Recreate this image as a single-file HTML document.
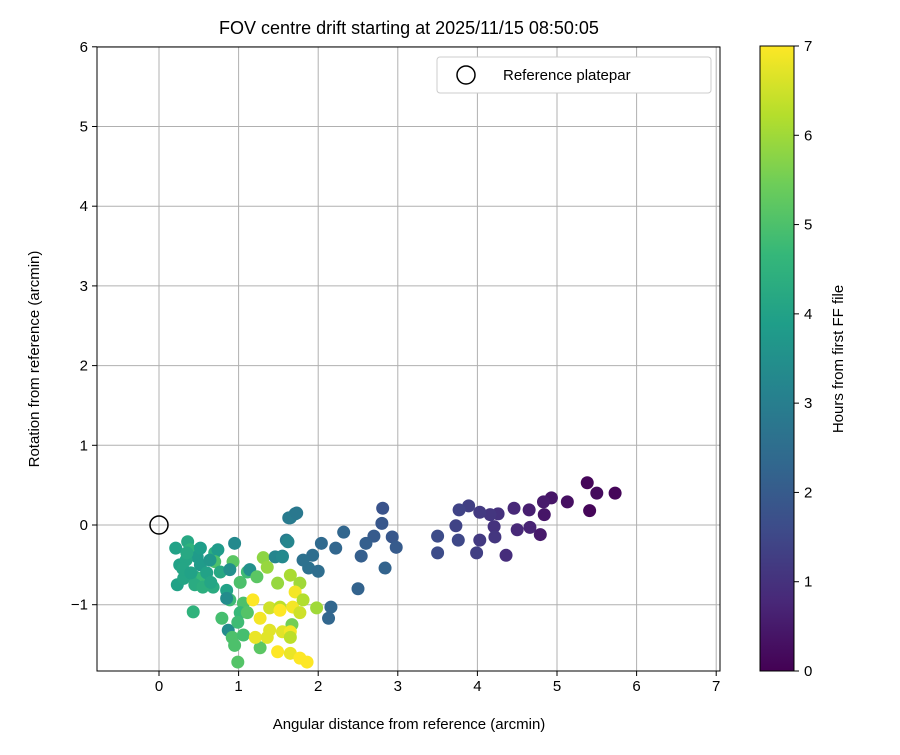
<!DOCTYPE html>
<html><head><meta charset="utf-8"><style>
body{margin:0;background:#fff;font-family:"Liberation Sans",sans-serif}
svg text{font-family:"Liberation Sans",sans-serif;fill:#000}
</style></head><body>
<svg id="c" width="900" height="750" xmlns="http://www.w3.org/2000/svg"></svg>
<script>
const xs=[5.38,5.5,5.73,5.41,5.13,4.93,4.83,4.84,4.79,4.65,4.66,4.46,4.5,4.36,4.26,4.21,4.22,4.16,4.03,4.03,3.99,3.89,3.77,3.73,3.76,3.5,3.5,
2.81,2.8,2.93,2.98,2.7,2.6,2.54,2.84,2.32,2.22,2.04,2.5,1.93,1.88,2.0,1.81,2.16,2.13,1.71,1.63,1.6,1.55,0.95,
0.36,0.39,0.26,0.48,0.23,0.43,0.52,0.7,0.74,0.7,0.93,0.77,0.89,0.45,0.55,0.68,0.85,0.89,0.85,1.02,1.11,1.14,1.23,1.31,1.36,1.46,1.55,1.62,1.65,1.73,
1.06,1.02,1.11,0.79,0.87,0.99,0.92,0.95,1.06,0.99,1.27,1.18,1.27,1.21,1.36,1.39,1.49,1.52,1.52,1.65,1.77,1.71,1.68,1.81,1.77,1.67,1.55,1.65,1.65,1.49,1.65,1.77,1.86,1.98,1.39,
0.21,0.34,0.52,0.31,0.64,0.3,0.45,0.55,0.6,0.35,0.65,0.4];
const ys=[0.53,0.4,0.4,0.18,0.29,0.34,0.29,0.13,-0.12,0.19,-0.03,0.21,-0.06,-0.38,0.14,-0.02,-0.15,0.13,0.16,-0.19,-0.35,0.24,0.19,-0.01,-0.19,-0.14,-0.35,
0.21,0.02,-0.15,-0.28,-0.14,-0.23,-0.39,-0.54,-0.09,-0.29,-0.23,-0.8,-0.38,-0.54,-0.58,-0.44,-1.03,-1.17,0.14,0.09,-0.19,-0.39,-0.23,
-0.21,-0.31,-0.5,-0.4,-0.75,-1.09,-0.5,-0.35,-0.31,-0.46,-0.46,-0.59,-0.56,-0.65,-0.66,-0.78,-0.82,-0.94,-0.92,-0.72,-0.59,-0.56,-0.65,-0.41,-0.53,-0.4,-0.4,-0.21,0.09,0.15,
-0.98,-1.1,-1.1,-1.17,-1.32,-1.22,-1.41,-1.51,-1.38,-1.72,-1.54,-0.94,-1.17,-1.41,-1.41,-1.04,-0.73,-1.03,-1.07,-0.63,-0.73,-0.84,-1.03,-0.94,-1.1,-1.25,-1.34,-1.34,-1.41,-1.59,-1.61,-1.67,-1.72,-1.04,-1.32,
-0.29,-0.44,-0.29,-0.67,-0.44,-0.55,-0.75,-0.78,-0.6,-0.35,-0.72,-0.6];
const hours=[0.1,0.2,0.1,0.1,0.3,0.4,0.5,0.4,0.5,0.6,0.7,0.8,0.8,0.9,1.0,1.0,1.1,1.1,1.2,1.2,1.3,1.3,1.4,1.4,1.5,1.6,1.6,
1.8,1.9,1.9,2.0,2.0,2.1,2.1,2.2,2.3,2.3,2.4,2.2,2.5,2.6,2.5,2.6,2.3,2.3,2.8,2.9,2.9,3.0,3.3,
4.2,4.5,4.0,3.8,4.0,4.5,3.8,4.4,3.8,5.0,5.2,4.2,3.5,4.3,4.7,4.3,4.0,4.8,3.4,5.0,4.8,3.5,5.2,5.8,5.9,3.2,3.3,3.2,2.9,2.8,
5.0,4.7,5.1,4.9,3.4,4.8,5.0,5.0,4.9,5.1,5.2,7.0,6.9,6.8,6.7,6.5,5.9,6.3,7.0,6.1,6.0,6.9,6.9,6.2,6.5,5.5,6.7,6.9,6.3,7.0,6.8,7.0,7.0,6.0,6.7,
4.0,4.1,3.9,4.1,3.7,4.1,4.3,4.4,4.0,4.2,4.1,4.0];
const xTicks=[0,1,2,3,4,5,6,7], yTicks=[-1,0,1,2,3,4,5,6], cTicks=[0,1,2,3,4,5,6,7];
const NS="http://www.w3.org/2000/svg", svg=document.getElementById('c');
function el(t,a,p){const e=document.createElementNS(NS,t);for(const k in a)e.setAttribute(k,a[k]);(p||svg).appendChild(e);return e;}
const L=97,R=720,T=47,B=671;
const X=v=>159+v*79.6, Y=v=>525-v*79.7;
const vir=[[68,1,84],[72,40,120],[62,74,137],[49,104,142],[38,130,142],[31,158,137],[53,183,121],[109,205,89],[180,222,44],[253,231,37]];
function col(h){let t=Math.max(0,Math.min(1,h/7))*(vir.length-1);let i=Math.min(vir.length-2,Math.floor(t)),f=t-i;const c=vir[i].map((v,k)=>Math.round(v+(vir[i+1][k]-v)*f));return `rgb(${c})`;}
xTicks.forEach(v=>{const g=el('line',{x1:X(v),x2:X(v),y1:T,y2:B,stroke:'#b0b0b0','stroke-width':1});
el('line',{x1:X(v),x2:X(v),y1:B,y2:B+5,stroke:'#000'});
const tx=el('text',{x:X(v),y:B+20,'text-anchor':'middle','font-size':15});tx.textContent=v;});
yTicks.forEach(v=>{const g=el('line',{x1:L,x2:R,y1:Y(v),y2:Y(v),stroke:'#b0b0b0','stroke-width':1});
el('line',{x1:L-5,x2:L,y1:Y(v),y2:Y(v),stroke:'#000'});
const tx=el('text',{x:L-9,y:Y(v)+5,'text-anchor':'end','font-size':15});tx.textContent=v<0?'\u2212'+(-v):v;});
const gp=el('g',{});
xs.forEach((x,i)=>{const c=el('circle',{cx:X(x),cy:Y(ys[i]),r:6.5,fill:col(hours[i])},gp);});
const ref=el('circle',{cx:X(0),cy:Y(0),r:9,fill:'none',stroke:'#000','stroke-width':1.5});
const fr=el('rect',{x:L,y:T,width:R-L,height:B-T,fill:'none',stroke:'#000','stroke-width':1});
const lg=el('g',{});
el('rect',{x:437,y:57,width:274,height:36,rx:3,fill:'#fff',stroke:'#ccc'},lg);
el('circle',{cx:466,cy:75,r:9,fill:'none',stroke:'#000','stroke-width':1.5},lg);
const lt=el('text',{x:503,y:80,'font-size':15},lg);lt.textContent='Reference platepar';
const ti=el('text',{x:409,y:34,'text-anchor':'middle','font-size':18});ti.textContent='FOV centre drift starting at 2025/11/15 08:50:05';
const xt=el('text',{x:409,y:729,'text-anchor':'middle','font-size':15});xt.textContent='Angular distance from reference (arcmin)';
const yt=el('text',{x:0,y:0,'text-anchor':'middle','font-size':15,transform:'translate(39,359) rotate(-90)'});yt.textContent='Rotation from reference (arcmin)';
const defs=el('defs',{});const gr=el('linearGradient',{id:'vg',x1:0,y1:1,x2:0,y2:0},defs);
vir.forEach((c,i)=>el('stop',{offset:i/(vir.length-1),'stop-color':`rgb(${c})`},gr));
const cb=el('rect',{x:760,y:46,width:34,height:625,fill:'url(#vg)',stroke:'#000','stroke-width':1});
cTicks.forEach(v=>{const y=671-v*625/7;el('line',{x1:794,x2:799,y1:y,y2:y,stroke:'#000'});
const t=el('text',{x:804,y:y+5,'font-size':15});t.textContent=v;});
const ct=el('text',{x:0,y:0,'text-anchor':'middle','font-size':15,transform:'translate(843,359) rotate(-90)'});ct.textContent='Hours from first FF file';
</script>
</body></html>
